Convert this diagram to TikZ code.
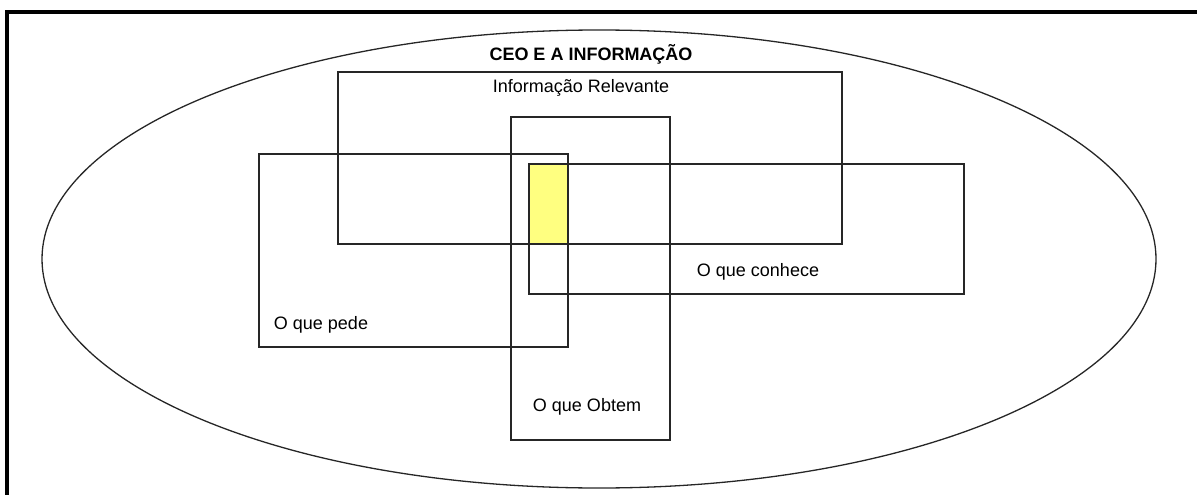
\documentclass[tikz,border=0pt]{standalone}
\usepackage{fontspec}
\setmainfont{Liberation Sans}
\definecolor{hilite}{RGB}{255,255,128}
\begin{document}
\begin{tikzpicture}[x=1pt,y=-1pt,
  outl/.style={draw=black!85,line width=1.3pt},
  frameline/.style={draw=black,line width=4pt},
  lbl/.style={inner sep=0pt,font=\fontsize{18}{20}\selectfont},
  ttl/.style={inner sep=0pt,font=\fontsize{18}{20}\selectfont\bfseries}]
\useasboundingbox (0,0) rectangle (1197,495);
\draw[frameline] (7,495) -- (7,12) -- (1197,12);
\draw[outl] (599,259) ellipse [x radius=557, y radius=229];
\fill[hilite] (529,164) rectangle (568,244);
\draw[outl] (338,72) rectangle (842,244);
\draw[outl] (259,154) rectangle (568,347);
\draw[outl] (529,164) rectangle (964,294);
\draw[outl] (511,117) rectangle (670,440);
\draw[outl] (529,164) rectangle (568,244);
\node[ttl] (title) at (591,54) {CEO E A INFORMAÇÃO};
\node[lbl] (rel) at (581,88) {Informação Relevante};
\node[lbl] (conhece) at (758,272) {O que conhece};
\node[lbl] (pede) at (321,325) {O que pede};
\node[lbl] (obtem) at (587,407) {O que Obtem};
\end{tikzpicture}
\end{document}
